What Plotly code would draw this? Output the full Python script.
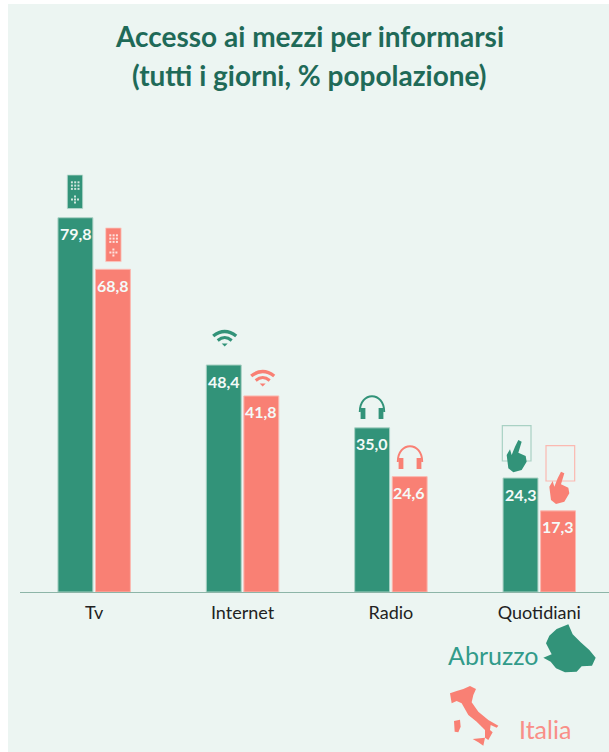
import plotly.graph_objects as go

categories = ["Tv", "Internet", "Radio", "Quotidiani"]
abruzzo = [79.8, 48.4, 35.0, 24.3]
italia = [68.8, 41.8, 24.6, 17.3]

GREEN = "#329379"
SALMON = "#F98074"
PANEL = "#ECF5F2"
W, H = 609, 752
L, R, T, B = 20, 609, 123, 592

def px(x): return (x - L) / (R - L)
def py(y): return (B - y) / (B - T)

def path(cmds):
    out = []
    for c in cmds:
        op, pts = c[0], c[1:]
        out.append(op + " ".join(f"{px(pts[i]):.5f},{py(pts[i+1]):.5f}" for i in range(0, len(pts), 2)))
    return " ".join(out)

def shape(cmds, fill=None, line=None, lw=0):
    d = dict(type="path", xref="paper", yref="paper", path=path(cmds), layer="above")
    d["fillcolor"] = fill if fill else "rgba(0,0,0,0)"
    d["line"] = dict(color=line if line else "rgba(0,0,0,0)", width=lw)
    return d

def poly(points, zx=0, zy=0, dx=0, dy=0):
    pts = [(zx + (a + dx) / 3, zy + (b + dy) / 3) for a, b in points]
    return [("M",) + pts[0]] + [("L",) + p for p in pts[1:]] + [("Z",)]

def rect(x0, y0, x1, y1):
    return [("M", x0, y0), ("L", x1, y0), ("L", x1, y1), ("L", x0, y1), ("Z",)]

shapes = [dict(type="rect", xref="paper", yref="paper", x0=px(8), x1=px(W + 2), y0=py(4), y1=py(H + 2),
               fillcolor=PANEL, line=dict(width=0), layer="below")]

def remote(x0, y0, col):
    shapes.append(shape(rect(x0, y0, x0 + 15.4, y0 + 33.6), fill=col, line="#BFDCD2" if col == GREEN else "#FBC9C2", lw=0.8))
    for r in range(3):
        for c in range(3):
            xx, yy = x0 + 3.6 + c * 3.3, y0 + 6.3 + r * 3.3
            shapes.append(shape(rect(xx, yy, xx + 2, yy + 2), fill="#CFE6DE" if col == GREEN else "#FDE3DF"))
    cx, cy = x0 + 7.7, y0 + 24.5
    for ddx, ddy in [(0, 0), (-3, 0), (3, 0), (0, -3), (0, 3)]:
        shapes.append(shape(rect(cx + ddx - 1, cy + ddy - 1, cx + ddx + 1, cy + ddy + 1), fill="#CFE6DE" if col == GREEN else "#FDE3DF"))

def wifi(cx, cy, col):
    for half, rise, base, lw in [(11.5, 9, 10, 3.4), (7, 6, 5.5, 3)]:
        shapes.append(shape([("M", cx - half, cy - base), ("Q", cx, cy - base - rise, cx + half, cy - base)], line=col, lw=lw))
    shapes.append(shape([("M", cx - 3, cy - 2.5), ("L", cx + 3, cy - 2.5), ("L", cx, cy + 0.5), ("Z",)], fill=col))

def phones(cx, top, col):
    half, h = 12.2, 17
    shapes.append(shape([("M", cx - half, top + h), ("C", cx - half, top - 4, cx + half, top - 4, cx + half, top + h)], line=col, lw=2))
    for sx in (-1, 1):
        a = cx + sx * 9
        shapes.append(shape(rect(a - 2.4, top + 13, a + 2.4, top + 24), fill=col))

hand = [(60, 80), (70, 60), (80, 65), (70, 98), (92, 108), (95, 125), (80, 150), (55, 157), (40, 145),
        (35, 105), (45, 88), (50, 105)]

def tablet(odx, ody, hdx, hdy, col, edge):
    shapes.append(shape(rect(495 + (22 + odx) / 3, 420 + (17 + ody) / 3, 495 + (108 + odx) / 3, 420 + (123 + ody) / 3), line=edge, lw=1.2))
    shapes.append(shape(poly(hand, 495, 420, hdx, hdy), fill=col))

remote(67.3, 175, GREEN)
remote(105.7, 228, SALMON)
wifi(224.7, 346, GREEN)
wifi(262.7, 386, SALMON)
phones(372, 395, GREEN)
phones(410, 445, SALMON)
tablet(0, 0, 0, 0, GREEN, "#A9D1C4")
tablet(131, 60, 128, 95, SALMON, "#FBB9B1")

abruzzo_map = [(310, 128), (335, 118), (318, 85), (328, 62), (350, 42), (385, 28), (398, 58), (422, 82),
               (448, 105), (467, 128), (456, 152), (425, 154), (410, 170), (375, 172), (348, 160), (332, 140)]
italy_map = [(30, 235), (50, 228), (70, 222), (90, 213), (108, 222), (100, 240), (95, 262), (115, 290),
             (145, 315), (175, 332), (170, 338), (152, 330), (150, 345), (158, 352), (145, 375), (135, 368),
             (135, 345), (110, 320), (85, 300), (65, 265), (50, 258), (35, 265)]
sardinia = [(42, 318), (60, 314), (62, 335), (55, 352), (44, 350)]
sicily = [(98, 372), (135, 368), (130, 392), (115, 382)]
shapes.append(shape(poly(abruzzo_map, 440, 615), fill=GREEN))
for p in (italy_map, sardinia, sicily):
    shapes.append(shape(poly(p, 440, 615), fill=SALMON))

fig = go.Figure()
labels = []
for name, vals, col, edge, shift in [("Abruzzo", abruzzo, GREEN, "#A9D1C4", -18.5), ("Italia", italia, SALMON, "#FBB9B1", 18.5)]:
    fig.add_bar(x=categories, y=vals, name=name, marker=dict(color=col, line=dict(color=edge, width=1)), cliponaxis=False)
    for cat, v in zip(categories, vals):
        labels.append(dict(text=f"{v:.1f}".replace(".", ","), x=cat, y=v, xref="x", yref="y", xshift=shift, yshift=-16,
                           xanchor="center", yanchor="middle", showarrow=False,
                           font=dict(family="Lato", size=16, color="#F4FAF8", weight=700)))

def note(text, x, y, size, color, weight=400):
    return dict(text=text, xref="paper", yref="paper", x=px(x), y=py(y), xanchor="center", yanchor="middle",
                showarrow=False, font=dict(family="Lato", size=size, color=color, weight=weight))

fig.update_layout(
    width=W, height=H, autosize=False, showlegend=False,
    margin=dict(l=L, r=W - R, t=T, b=H - B, pad=0),
    paper_bgcolor="white", plot_bgcolor="rgba(0,0,0,0)",
    barmode="group", bargap=0.494, bargroupgap=0.07,
    shapes=shapes,
    annotations=[
        note("Accesso ai mezzi per informarsi", 309, 36, 28, "#1F6A58", 700),
        note("(tutti i giorni, % popolazione)", 309, 75, 28, "#1F6A58", 700),
        note("Abruzzo", 493, 655, 25, "#329B8A"),
        note("Italia", 545, 729, 25, "#F98F88"),
    ] + labels,
    xaxis=dict(type="category", categoryorder="array", categoryarray=categories, range=[-0.5, 3.47],
               showgrid=False, zeroline=False, showline=True, linecolor="#8DB5A8", linewidth=1,
               ticks="outside", ticklen=4, tickcolor="rgba(0,0,0,0)",
               tickfont=dict(family="Lato", size=18, color="#222222")),
    yaxis=dict(range=[0, 100], visible=False, fixedrange=True),
)
fig.write_html("out.html", config=dict(displayModeBar=False),
               post_script="document.body.style.margin='0';document.body.style.overflow='hidden';")
